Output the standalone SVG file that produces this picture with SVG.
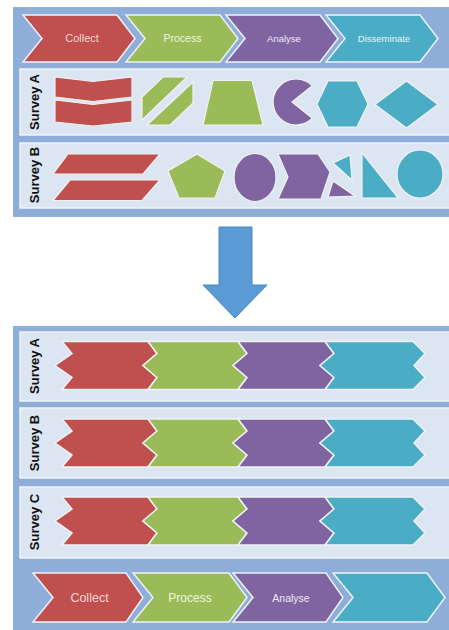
<svg xmlns="http://www.w3.org/2000/svg" width="449" height="630" viewBox="0 0 449 630">
<style>
.panel{fill:#8eaed9;}
.box{fill:#dce6f2;stroke:#eef3fa;stroke-width:1.5;}
.red{fill:#c0504d;}
.green{fill:#9bbb59;}
.purple{fill:#8064a2;}
.teal{fill:#4bacc6;}
.chev{stroke:#eef2f6;stroke-width:1.5;stroke-linejoin:miter;}
.shp{stroke:#f2f2f2;stroke-width:1.2;}
.lbl{font-family:"Liberation Sans",Arial,sans-serif;text-anchor:middle;}
.survey{font-family:"Liberation Sans",Arial,sans-serif;font-weight:bold;font-size:13px;fill:#111;text-anchor:middle;}
</style>
<rect width="449" height="630" fill="#ffffff"/>

<!-- Top panel -->
<g id="top-panel">
<rect class="panel" x="13" y="7" width="445" height="210"/>
</g>
<g id="top-collect">
<polygon class="red chev" points="23,15 117,15 135,38.5 117,62 23,62 42,38.5"/>
<text class="lbl" x="82" y="42" font-size="11" fill="#f5d6d6">Collect</text>
</g>
<g id="top-process">
<polygon class="green chev" points="126,15 220,15 238,38.5 220,62 126,62 145,38.5"/>
<text class="lbl" x="182.5" y="42" font-size="10.5" fill="#eef6de">Process</text>
</g>
<g id="top-analyse">
<polygon class="purple chev" points="226,15 320,15 338,38.5 320,62 226,62 245,38.5"/>
<text class="lbl" x="284" y="41.5" font-size="9.5" fill="#eee8f6">Analyse</text>
</g>
<g id="top-disseminate">
<polygon class="teal chev" points="326,15 420,15 438,38.5 420,62 326,62 345,38.5"/>
<text class="lbl" x="384" y="41.5" font-size="9.5" fill="#e6f5f9">Disseminate</text>
</g>

<g id="top-survey-a">
<rect class="box" x="20" y="69" width="432" height="66"/>
<text class="survey" transform="translate(39,102) rotate(-90)">Survey A</text>
<polygon class="red shp" points="55,77 93,81.5 132,77 132,97 93,101.5 55,97"/>
<polygon class="red shp" points="55,100 93,104.5 132,100 132,122 93,126 55,122"/>
<polygon class="green shp" points="142,97 163,77 187,77 142,120"/>
<polygon class="green shp" points="193,82 193,103 170,125 147,125"/>
<polygon class="green shp" points="213,80.5 252,80.5 263,125 203,125"/>
<path class="purple shp" d="M292,102 L312.3,85.7 A23,23 0 1,0 312.3,118.3 Z"/>
<polygon class="teal shp" points="328,81 357,81 368,104 357,127 328,127 317,104"/>
<polygon class="teal shp" points="375,104.5 406.5,81 438,104.5 406.5,128"/>
</g>

<g id="top-survey-b">
<rect class="box" x="20" y="143" width="432" height="65"/>
<text class="survey" transform="translate(39,175) rotate(-90)">Survey B</text>
<polygon class="red shp" points="68,154 160,154 143,174 53,174"/>
<polygon class="red shp" points="70,180 160,180 142,200.5 53,200.5"/>
<polygon class="green shp" points="197,154 225,171 215,198 179,198 168,171"/>
<ellipse class="purple shp" cx="255" cy="177.5" rx="21" ry="24"/>
<polygon class="purple shp" points="278,154 318,154 330,172 321,199 278,199 288,177"/>
<polygon class="teal shp" points="333,163 350,155 352,180"/>
<polygon class="purple shp" points="333,181 328,197 355,196"/>
<polygon class="teal shp" points="362,153 362,198 398,198"/>
<ellipse class="teal shp" cx="420" cy="174" rx="23" ry="24"/>
</g>

<!-- Arrow -->
<g id="down-arrow">
<polygon points="219,227 252,227 252,285 267,285 235,318 203,285 219,285" fill="#5b9bd5" stroke="#4a86c0" stroke-width="1"/>
</g>

<!-- Bottom panel -->
<g id="bottom-panel">
<rect class="panel" x="13" y="326" width="445" height="310"/>
</g>

<g id="bottom-survey-a">
<rect class="box" x="20" y="332" width="432" height="69"/>
<text class="survey" transform="translate(39,366) rotate(-90)">Survey A</text>
<polygon class="red chev" points="62,341.5 148,341.5 157,353.5 143,365.5 157,377.5 148,389.5 62,389.5 72,377.5 55,365.5 72,353.5"/>
<polygon class="green chev" points="148,341.5 238,341.5 247,353.5 233,365.5 247,377.5 238,389.5 148,389.5 157,377.5 143,365.5 157,353.5"/>
<polygon class="purple chev" points="238,341.5 325,341.5 334,353.5 320,365.5 334,377.5 325,389.5 238,389.5 247,377.5 233,365.5 247,353.5"/>
<polygon class="teal chev" points="325,341.5 413,341.5 425,353.5 414,365.5 425,377.5 413,389.5 325,389.5 334,377.5 320,365.5 334,353.5"/>
</g>

<g id="bottom-survey-b">
<rect class="box" x="20" y="408" width="432" height="70"/>
<text class="survey" transform="translate(39,443) rotate(-90)">Survey B</text>
<polygon class="red chev" points="62,419 148,419 157,431 143,443 157,455 148,467 62,467 72,455 55,443 72,431"/>
<polygon class="green chev" points="148,419 238,419 247,431 233,443 247,455 238,467 148,467 157,455 143,443 157,431"/>
<polygon class="purple chev" points="238,419 325,419 334,431 320,443 334,455 325,467 238,467 247,455 233,443 247,431"/>
<polygon class="teal chev" points="325,419 413,419 425,431 414,443 425,455 413,467 325,467 334,455 320,443 334,431"/>
</g>

<g id="bottom-survey-c">
<rect class="box" x="20" y="487" width="432" height="71"/>
<text class="survey" transform="translate(39,522) rotate(-90)">Survey C</text>
<polygon class="red chev" points="62,497 148,497 157,509 143,521 157,533 148,545 62,545 72,533 55,521 72,509"/>
<polygon class="green chev" points="148,497 238,497 247,509 233,521 247,533 238,545 148,545 157,533 143,521 157,509"/>
<polygon class="purple chev" points="238,497 325,497 334,509 320,521 334,533 325,545 238,545 247,533 233,521 247,509"/>
<polygon class="teal chev" points="325,497 413,497 425,509 414,521 425,533 413,545 325,545 334,533 320,521 334,509"/>
</g>

<g id="bottom-collect">
<polygon class="red chev" points="33,573 126,573 143,597.5 126,622 33,622 53,597.5"/>
<text class="lbl" x="89.5" y="602" font-size="12.5" fill="#f5d6d6">Collect</text>
</g>
<g id="bottom-process">
<polygon class="green chev" points="133,573 229,573 247,597.5 229,622 133,622 153,597.5"/>
<text class="lbl" x="190" y="602" font-size="12" fill="#eef6de">Process</text>
</g>
<g id="bottom-analyse">
<polygon class="purple chev" points="233,573 326,573 343,597.5 326,622 233,622 253,597.5"/>
<text class="lbl" x="291" y="601.5" font-size="10.5" fill="#eee8f6">Analyse</text>
</g>
<g id="bottom-disseminate">
<polygon class="teal chev" points="333,573 427,573 445,597.5 427,622 333,622 353,597.5"/>
</g>
</svg>
